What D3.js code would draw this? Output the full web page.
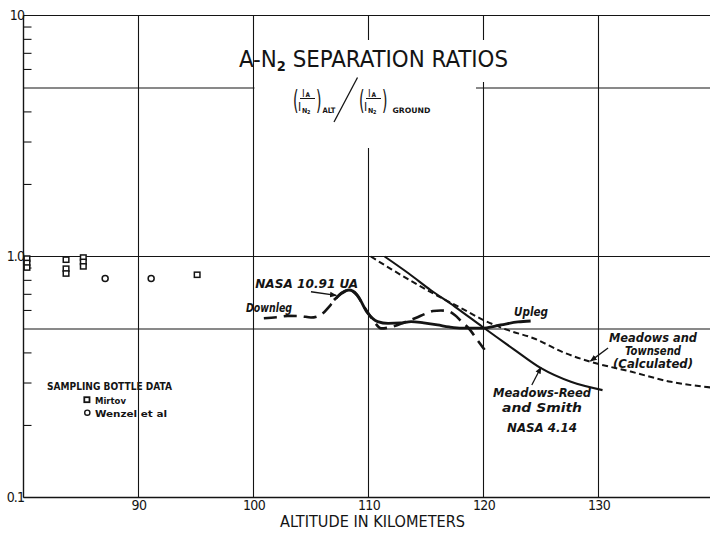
<!DOCTYPE html>
<html>
<head>
<meta charset="utf-8">
<script src="https://cdn.jsdelivr.net/npm/d3@7"></script>
<style>
  html, body { margin: 0; padding: 0; background: #fff; }
  svg { display: block; }
</style>
</head>
<body>
<svg id="chart" width="710" height="533"></svg>
<script>
// ---- data -------------------------------------------------------------
// altitude ticks / grid (km)
const xTicks = [90, 100, 110, 120, 130];
// ratio scale: labelled decades, grid lines, minor ticks
const yLabelValues = [0.1, 1, 10];
const yLabelText = ["0.1", "1.0", "10"];
const yGridValues = [0.1, 0.5, 1, 5, 10];
const yMinorTicks = [0.2, 0.3, 0.4, 0.6, 0.7, 0.8, 0.9, 2, 3, 4, 6, 7, 8, 9];

// sampling bottle data
const mirtovAlt   = [80.3, 80.3, 80.3, 83.7, 83.7, 83.7, 85.2, 85.2, 85.2, 95.1];
const mirtovRatio = [0.98, 0.94, 0.90, 0.97, 0.89, 0.85, 0.99, 0.95, 0.91, 0.84];
const wenzelAlt   = [87.1, 91.1];
const wenzelRatio = [0.81, 0.81];

// NASA 10.91 UA, upleg (solid)
const uplegAlt   = [107.0, 107.7, 108.3, 109.0, 109.9, 110.8, 111.7, 112.8, 113.7, 114.8, 116.0, 117.0, 118.1, 119.8, 121.5, 123.0, 124.1];
const uplegRatio = [0.660, 0.705, 0.726, 0.695, 0.585, 0.537, 0.528, 0.530, 0.537, 0.530, 0.520, 0.510, 0.504, 0.504, 0.520, 0.535, 0.540];

// NASA 10.91 UA, downleg (dashed)
const downlegAlt   = [100.9, 102.0, 103.0, 104.1, 105.0, 105.9, 106.7, 107.6, 108.3, 109.0, 109.6, 110.4, 111.1, 112.0, 113.2, 114.1, 115.0, 115.6, 116.3, 116.9, 117.5, 118.1, 118.7, 119.4, 120.1];
const downlegRatio = [0.554, 0.560, 0.567, 0.566, 0.558, 0.575, 0.629, 0.703, 0.726, 0.690, 0.620, 0.545, 0.503, 0.510, 0.535, 0.556, 0.580, 0.594, 0.597, 0.594, 0.572, 0.537, 0.504, 0.455, 0.410];

// Meadows-Reed and Smith, NASA 4.14 (solid)
const reedAlt   = [111.4, 113.5, 115.4, 117.5, 119.9, 122.7, 125.0, 127.6, 130.35];
const reedRatio = [1.000, 0.850, 0.726, 0.620, 0.511, 0.410, 0.344, 0.302, 0.279];

// Meadows and Townsend, calculated (short dashes)
const townsendAlt   = [110.2, 112.0, 114.0, 116.0, 118.0, 120.0, 122.0, 124.4, 127.0, 129.3, 132.8, 136.3, 139.8];
const townsendRatio = [1.000, 0.885, 0.777, 0.687, 0.613, 0.545, 0.497, 0.457, 0.399, 0.366, 0.333, 0.302, 0.286];

// ---- layout -------------------------------------------------------------
const W = 710, H = 533;
const ink = "#141414";
const upright = "'DejaVu Sans Condensed', 'DejaVu Sans', sans-serif";
const slanted = "'DejaVu Sans', sans-serif";

const svg = d3.select("#chart");
const x = d3.scaleLinear().domain([80, 140]).range([23.5, 713.5]);
const y = d3.scaleLog().domain([0.1, 10]).range([497.5, 15.5]);

const zip = (a, b) => a.map((v, i) => [v, b[i]]);

// ---- grid ---------------------------------------------------------------
const grid = svg.append("g").attr("stroke", ink).attr("stroke-width", 1.1);
grid.selectAll("line.v").data(xTicks).join("line")
  .attr("class", "v")
  .attr("x1", d => x(d)).attr("x2", d => x(d))
  .attr("y1", y(10)).attr("y2", y(0.1));
grid.selectAll("line.h").data(yGridValues).join("line")
  .attr("class", "h")
  .attr("x1", x(80)).attr("x2", W)
  .attr("y1", d => y(d)).attr("y2", d => y(d));

// clear panel behind the heading
const clear = svg.append("g").attr("fill", "#fff");
clear.append("rect").attr("x", x(100) + 1).attr("y", 40).attr("width", 476 - x(100) - 1).attr("height", y(5) + 1 - 40);
clear.append("rect").attr("x", 476).attr("y", 40).attr("width", 14).attr("height", 42);
clear.append("rect").attr("x", 300).attr("y", y(5) + 1).attr("width", 130).attr("height", 148 - y(5) - 1);

// ---- axes ---------------------------------------------------------------
// left axis line with inward minor ticks
svg.append("line")
  .attr("x1", x(80)).attr("x2", x(80))
  .attr("y1", y(10)).attr("y2", y(0.1))
  .attr("stroke", ink).attr("stroke-width", 1.4);

const minor = svg.append("g")
  .attr("transform", `translate(${x(80)},0)`)
  .call(d3.axisRight(y).tickValues(yMinorTicks).tickSize(8).tickFormat(""));
minor.select(".domain").remove();
minor.selectAll(".tick line").attr("stroke", ink).attr("stroke-width", 1.1);

const yLab = svg.append("g")
  .attr("transform", `translate(${x(80) + 1.5},0)`)
  .call(d3.axisLeft(y).tickValues(yLabelValues).tickSize(0).tickPadding(1)
    .tickFormat(d => yLabelText[yLabelValues.indexOf(d)]));
yLab.select(".domain").remove();
yLab.selectAll(".tick text")
  .attr("font-family", upright).attr("font-size", 14).attr("fill", ink)
  .attr("letter-spacing", -0.9);

// bottom axis
svg.append("line")
  .attr("x1", x(80)).attr("x2", W)
  .attr("y1", y(0.1)).attr("y2", y(0.1))
  .attr("stroke", ink).attr("stroke-width", 1.4);

const xAx = svg.append("g")
  .attr("transform", `translate(0,${y(0.1)})`)
  .call(d3.axisBottom(x).tickValues(xTicks).tickSize(0).tickPadding(3).tickFormat(d3.format("d")));
xAx.select(".domain").remove();
xAx.selectAll(".tick text")
  .attr("font-family", upright).attr("font-size", 14).attr("fill", ink)
  .attr("letter-spacing", -0.6);

svg.append("text")
  .attr("x", 280).attr("y", 527)
  .attr("textLength", 185).attr("lengthAdjust", "spacingAndGlyphs")
  .attr("font-family", upright).attr("font-size", 15).attr("fill", ink)
  .text("ALTITUDE IN KILOMETERS");

// ---- heading -------------------------------------------------------------
const title = svg.append("text")
  .attr("x", 239).attr("y", 67)
  .attr("textLength", 269).attr("lengthAdjust", "spacingAndGlyphs")
  .attr("font-family", upright).attr("font-size", 23).attr("fill", ink);
title.append("tspan").text("A-N");
title.append("tspan").attr("font-size", 14).attr("font-weight", "bold").attr("dy", 4).text("2");
title.append("tspan").attr("dy", -4).text(" SEPARATION RATIOS");

// ratio formula (I_A / I_N2)_ALT / (I_A / I_N2)_GROUND
function fraction(g, x0) {
  const t = g.append("g").attr("fill", ink).attr("font-family", upright);
  t.append("text").attr("x", x0).attr("y", 109).attr("font-size", 26)
    .attr("transform", `translate(${x0},109) scale(0.6,1) translate(${-x0},-109)`).text("(");
  t.append("text").attr("x", x0 + 9).attr("y", 96.5).attr("font-size", 10).text("I");
  t.append("text").attr("x", x0 + 12.5).attr("y", 96.5).attr("font-size", 6.5).attr("font-weight", "bold").text("A");
  t.append("line").attr("x1", x0 + 7).attr("x2", x0 + 22).attr("y1", 98.5).attr("y2", 98.5)
    .attr("stroke", ink).attr("stroke-width", 1);
  t.append("text").attr("x", x0 + 5).attr("y", 111).attr("font-size", 12).text("I");
  t.append("text").attr("x", x0 + 9).attr("y", 113).attr("font-size", 7).attr("font-weight", "bold").text("N");
  t.append("text").attr("x", x0 + 14).attr("y", 114).attr("font-size", 5.5).attr("font-weight", "bold").text("2");
  t.append("text").attr("x", x0 + 23).attr("y", 109).attr("font-size", 26)
    .attr("transform", `translate(${x0 + 23},109) scale(0.6,1) translate(${-(x0 + 23)},-109)`).text(")");
}
const formula = svg.append("g");
fraction(formula, 293);
formula.append("text").attr("x", 322.5).attr("y", 113).attr("font-size", 7.5)
  .attr("font-weight", "bold").attr("font-family", upright).attr("fill", ink).text("ALT");
formula.append("line").attr("x1", 334).attr("y1", 122).attr("x2", 357.5).attr("y2", 77.5)
  .attr("stroke", ink).attr("stroke-width", 1.3);
fraction(formula, 359);
formula.append("text").attr("x", 392.5).attr("y", 113).attr("font-size", 7.5)
  .attr("textLength", 38).attr("lengthAdjust", "spacingAndGlyphs")
  .attr("font-weight", "bold").attr("font-family", upright).attr("fill", ink).text("GROUND");

// ---- curves -------------------------------------------------------------
const line = d3.line()
  .x(d => x(d[0])).y(d => y(d[1]))
  .curve(d3.curveMonotoneX);

const curves = svg.append("g").attr("fill", "none").attr("stroke", ink)
  .attr("stroke-linecap", "butt").attr("stroke-linejoin", "round");

curves.append("path").datum(zip(townsendAlt, townsendRatio))
  .attr("d", line).attr("stroke-width", 2).attr("stroke-dasharray", "6,3.5");
curves.append("path").datum(zip(reedAlt, reedRatio))
  .attr("d", line).attr("stroke-width", 2.1);
curves.append("path").datum(zip(downlegAlt, downlegRatio))
  .attr("d", line).attr("stroke-width", 2.6).attr("stroke-dasharray", "13,7");
curves.append("path").datum(zip(uplegAlt, uplegRatio))
  .attr("d", line).attr("stroke-width", 2.8);

// ---- sampling bottle points ---------------------------------------------
const pts = svg.append("g").attr("fill", "#fff").attr("stroke", ink).attr("stroke-width", 1.5);
pts.selectAll("rect").data(zip(mirtovAlt, mirtovRatio)).join("rect")
  .attr("x", d => x(d[0]) - 2.8).attr("y", d => y(d[1]) - 2.6)
  .attr("width", 5.6).attr("height", 5.2);
pts.selectAll("circle").data(zip(wenzelAlt, wenzelRatio)).join("circle")
  .attr("cx", d => x(d[0])).attr("cy", d => y(d[1])).attr("r", 3);

// ---- annotations --------------------------------------------------------
const defs = svg.append("defs");
defs.append("marker").attr("id", "head")
  .attr("viewBox", "0 0 10 10").attr("refX", 9).attr("refY", 5)
  .attr("markerWidth", 7).attr("markerHeight", 7).attr("markerUnits", "userSpaceOnUse")
  .attr("orient", "auto")
  .append("path").attr("d", "M0,1 L10,5 L0,9 Z").attr("fill", ink);

function arrow(from, to) {
  svg.append("line")
    .attr("x1", x(from[0])).attr("y1", y(from[1]))
    .attr("x2", x(to[0])).attr("y2", y(to[1]))
    .attr("stroke", ink).attr("stroke-width", 1.3)
    .attr("marker-end", "url(#head)");
}
function note(at, str, anchor, len) {
  const t = svg.append("text")
    .attr("x", x(at[0])).attr("y", y(at[1]))
    .attr("text-anchor", anchor)
    .attr("font-family", slanted).attr("font-style", "italic").attr("font-weight", "bold")
    .attr("font-size", 12).attr("fill", ink)
    .text(str);
  if (len) t.attr("textLength", len).attr("lengthAdjust", "spacingAndGlyphs");
  return t;
}

note([100.15, 0.742], "NASA  10.91 UA", "start", 103);
arrow([105.0, 0.714], [107.2, 0.690]);
note([99.35, 0.590], "Downleg", "start", 46);
note([122.65, 0.566], "Upleg", "start", 34);

note([134.74, 0.443], "Meadows  and", "middle", 88);
note([134.74, 0.390], "Townsend", "middle", 56);
note([134.74, 0.344], "(Calculated)", "middle", 80);
arrow([130.83, 0.417], [129.3, 0.368]);

note([125.09, 0.262], "Meadows-Reed", "middle", 98);
note([125.09, 0.227], "and  Smith", "middle", 80);
note([125.09, 0.1875], "NASA  4.14", "middle", 70);
arrow([124.2, 0.293], [125.0, 0.347]);

// ---- sampling legend ------------------------------------------------------
const leg = svg.append("g").attr("font-family", upright).attr("font-weight", "bold").attr("fill", ink);
leg.append("text").attr("x", 47).attr("y", 389.5).attr("font-size", 10.5)
  .attr("textLength", 125).attr("lengthAdjust", "spacingAndGlyphs").text("SAMPLING BOTTLE DATA");
leg.append("rect").attr("x", 84.3).attr("y", 397.2).attr("width", 5.2).attr("height", 5)
  .attr("fill", "#fff").attr("stroke", ink).attr("stroke-width", 1.8);
leg.append("text").attr("x", 95).attr("y", 404).attr("font-size", 9.5)
  .attr("textLength", 31).attr("lengthAdjust", "spacingAndGlyphs").text("Mirtov");
leg.append("circle").attr("cx", 87.3).attr("cy", 412.7).attr("r", 2.6)
  .attr("fill", "#fff").attr("stroke", ink).attr("stroke-width", 1.4);
leg.append("text").attr("x", 95).attr("y", 416.5).attr("font-size", 9.5)
  .attr("textLength", 72).attr("lengthAdjust", "spacingAndGlyphs").text("Wenzel et al");
</script>
</body>
</html>
